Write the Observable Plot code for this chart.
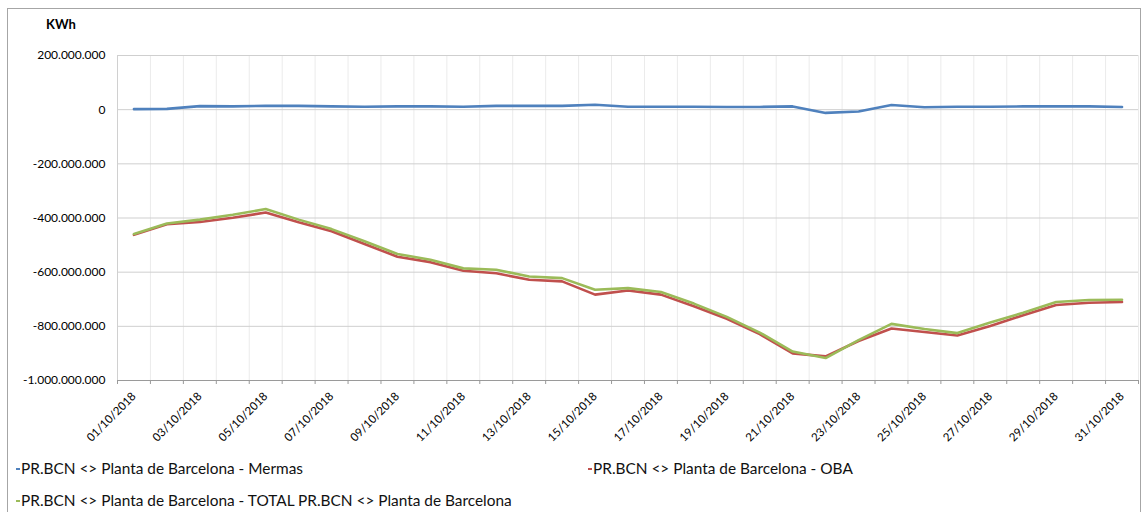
<!DOCTYPE html>
<html><head><meta charset="utf-8">
<script src="https://cdn.jsdelivr.net/npm/d3@7"></script>
<script src="https://cdn.jsdelivr.net/npm/@observablehq/plot@0.6"></script>
<style>
body{margin:0;background:#fff;font-family:Lato,sans-serif;}
#wrap{position:relative;width:1141px;height:512px;overflow:hidden;background:#fff;}
#frame{position:absolute;left:7px;top:8px;width:1134px;height:530px;border:1px solid #a6a6a6;box-sizing:border-box;}
#unit{position:absolute;left:46px;top:16px;font-weight:bold;font-size:13px;color:#000;}
#chart{position:absolute;left:0;top:40px;}
.leg{position:absolute;font-size:15.4px;color:#111;white-space:nowrap;line-height:18px;}
.leg i{display:inline-block;width:4px;height:2.5px;vertical-align:middle;margin-right:1px;position:relative;top:-1px;}
</style></head><body>
<div id="wrap"><div id="frame"></div><div id="unit"></div><div id="chart"></div></div>
<script>
const dates = ["01/10/2018","02/10/2018","03/10/2018","04/10/2018","05/10/2018","06/10/2018","07/10/2018","08/10/2018","09/10/2018","10/10/2018","11/10/2018","12/10/2018","13/10/2018","14/10/2018","15/10/2018","16/10/2018","17/10/2018","18/10/2018","19/10/2018","20/10/2018","21/10/2018","22/10/2018","23/10/2018","24/10/2018","25/10/2018","26/10/2018","27/10/2018","28/10/2018","29/10/2018","30/10/2018","31/10/2018"];
const mermas = [2e6,3e6,13e6,12e6,14e6,14e6,12e6,11e6,12e6,12e6,11e6,14e6,14e6,14e6,18e6,11e6,11e6,11e6,10e6,10e6,12e6,-12e6,-7e6,17e6,9e6,11e6,11e6,12e6,12e6,12e6,10e6];
const oba = [-462e6,-423e6,-415e6,-399e6,-380e6,-416e6,-449e6,-496e6,-543e6,-563e6,-595e6,-604e6,-628e6,-634e6,-683e6,-668e6,-683e6,-726e6,-772e6,-829e6,-900e6,-911e6,-854e6,-808e6,-821e6,-834e6,-799e6,-759e6,-721e6,-713e6,-710e6];
const total = [-459e6,-420e6,-406e6,-388e6,-367e6,-406e6,-441e6,-486e6,-533e6,-554e6,-586e6,-591e6,-616e6,-622e6,-665e6,-659e6,-673e6,-716e6,-765e6,-823e6,-893e6,-917e6,-851e6,-791e6,-810e6,-825e6,-786e6,-750e6,-710e6,-703e6,-702e6];
const seriesNames = ["PR.BCN <> Planta de Barcelona - Mermas","PR.BCN <> Planta de Barcelona - OBA","PR.BCN <> Planta de Barcelona - TOTAL PR.BCN <> Planta de Barcelona"];
const seriesColors = ["#4F81BD","#C0504D","#9BBB59"];
const yTicks = [200e6,0,-200e6,-400e6,-600e6,-800e6,-1000e6];
const unitLabel = "KWh";

const seriesValues = [mermas, oba, total];
const rows = [];
seriesValues.forEach((vals, s) => vals.forEach((v, i) => rows.push({day: i + 1, value: v, series: seriesNames[s]})));
const days = dates.map((d, i) => i + 1);
const boundaries = [0, ...days].map(d => d + 0.5);
const labelDays = days.filter(d => d % 2 === 1);
const fmt = d3.formatLocale({decimal: ",", thousands: ".", grouping: [3], currency: ["", ""], minus: "-"}).format(",");

document.getElementById("unit").textContent = unitLabel;

const chart = Plot.plot({
  width: 1141, height: 405,
  marginTop: 15, marginBottom: 65, marginLeft: 117, marginRight: 3,
  x: {type: "linear", domain: [0.5, dates.length + 0.5], axis: null},
  y: {domain: [d3.min(yTicks), d3.max(yTicks)], axis: null},
  color: {domain: seriesNames, range: seriesColors},
  style: {fontFamily: "Lato, sans-serif", fontSize: "12px", color: "#000", background: "transparent", overflow: "visible"},
  marks: [
    Plot.gridX({ticks: boundaries, stroke: "#ebebeb", strokeOpacity: 1}),
    Plot.gridY({ticks: yTicks, stroke: "#cfcfcf", strokeOpacity: 1}),
    Plot.frame({anchor: "left", stroke: "#d0d0d0"}),
    Plot.frame({anchor: "bottom", stroke: "#9a9a9a"}),
    Plot.axisX({ticks: boundaries, tickSize: 4, stroke: "#9a9a9a", strokeOpacity: 1, tickFormat: () => "", label: null}),
    Plot.axisX({ticks: labelDays, tickSize: 0, tickPadding: 14, tickRotate: -45, tickFormat: d => dates[d - 1], fontSize: 11.5, fill: "#000", label: null}),
    Plot.axisY({ticks: yTicks, tickSize: 0, tickPadding: 12, tickFormat: fmt, fontSize: 12, fill: "#000", label: null}),
    Plot.line(rows, {x: "day", y: "value", z: "series", stroke: "series", strokeWidth: 2.6, strokeLinejoin: "round"})
  ]
});
document.getElementById("chart").appendChild(chart);

const wrap = document.getElementById("wrap");
const legPos = [[16, 459], [588, 459], [16, 491]];
seriesNames.forEach((name, i) => {
  const el = document.createElement("div");
  el.className = "leg";
  el.style.left = legPos[i][0] + "px";
  el.style.top = legPos[i][1] + "px";
  const sw = document.createElement("i");
  sw.style.background = seriesColors[i];
  el.appendChild(sw);
  el.appendChild(document.createTextNode(name));
  wrap.appendChild(el);
});
</script>
</body></html>
